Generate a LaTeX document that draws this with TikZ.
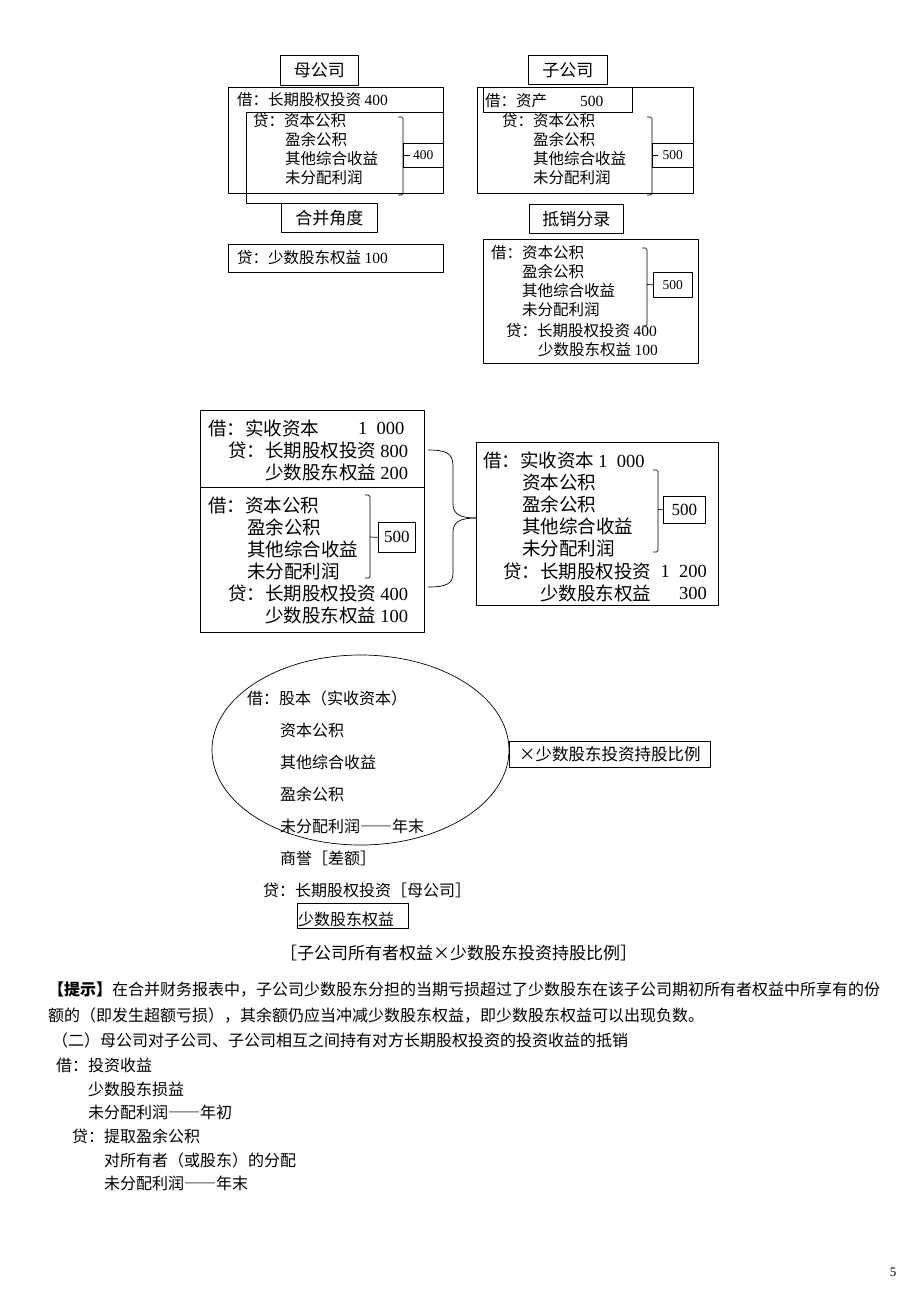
\documentclass[tikz,border=0pt]{standalone}
\usepackage{fontspec}
\setmainfont{Noto Sans CJK SC}
\newfontfamily\numfont{Liberation Serif}
\usetikzlibrary{shapes.geometric}
\XeTeXlinebreaklocale "zh"
\XeTeXlinebreakskip=0pt plus 2pt minus 0.3pt

\newcommand{\amt}[1]{{\numfont #1}}
\newcommand{\fs}[1]{\fontsize{#1}{#1}\selectfont}
\newcommand{\longdash}{{\addfontfeature{CharacterWidth=Full}——}}

\tikzstyle{boxframe}=[draw, line width=0.7pt, inner sep=0pt, anchor=north west]
\tikzstyle{titlebox}=[boxframe, font=\fs{17}]
\tikzstyle{numbox}=[boxframe, font=\numfont\fs{13.5}]
\tikzstyle{txt}=[anchor=west, inner sep=0pt]
\tikzstyle{bracket}=[line width=0.7pt, rounded corners=1.5pt]
\tikzstyle{tick}=[line width=0.7pt]

\begin{document}
\begin{tikzpicture}[x=1pt, y=-1pt, line join=round]
\fill[white] (0,0) rectangle (920,1302);
\useasboundingbox (0,0) rectangle (920,1302);

% parent company
\begin{scope}[font=\fs{15.5}]
  \node[titlebox, minimum width=78, minimum height=30] (mu) at (280,55) {母公司};
  \node[boxframe, minimum width=215, minimum height=106] (mubox) at (228,87) {};
  \node[txt] (mu0) at (237,100) {借：长期股权投资 \amt{400}};
  \node[txt] (mu1) at (253,121) {贷：资本公积};
  \foreach \t [count=\i from 2] in {盈余公积, 其他综合收益, 未分配利润}
    \node[txt] (mu\i) at (285,{121+19*(\i-1)}) {\t};
  \node[titlebox, minimum width=96, minimum height=29] (hebing) at (281,203) {合并角度};
  \draw[tick] (443,112) -- (246,112) -- (246,203) -- (hebing.north west);
  \draw[bracket] (398,117) -- (403,117) -- (403,195) -- (398,195);
  \node[numbox, minimum width=40, minimum height=24] (mu400) at (403,143) {400};
  \coordinate (mubk) at (403,155);
  \draw[tick] (mubk) -- ++(7,0);
  \node[boxframe, minimum width=215, minimum height=28] (shaoshu) at (228,244) {};
  \node[txt] (ss0) at (237,258) {贷：少数股东权益 \amt{100}};

  % subsidiary
  \node[titlebox, minimum width=79, minimum height=29] (zi) at (528,55) {子公司};
  \node[boxframe, minimum width=216, minimum height=106] (zibox) at (477,87) {};
  \node[boxframe, minimum width=149, minimum height=25] (zicap) at (483,87) {};
  \node[txt] (zi0) at (485,101) {借：资产};
  \node[txt] (zi0v) at (580,101) {\amt{500}};
  \node[txt] (zi1) at (502,121) {贷：资本公积};
  \foreach \t [count=\i from 2] in {盈余公积, 其他综合收益, 未分配利润}
    \node[txt] (zi\i) at (533,{121+19*(\i-1)}) {\t};
  \draw[bracket] (647,117) -- (652,117) -- (652,195) -- (647,195);
  \node[numbox, minimum width=41, minimum height=24] (zi500) at (652,143) {500};
  \coordinate (zibk) at (652,155);
  \draw[tick] (zibk) -- ++(6,0);

  % elimination entry
  \node[titlebox, minimum width=94, minimum height=29] (dixiao) at (529,204) {抵销分录};
  \node[boxframe, minimum width=215, minimum height=124] (dxbox) at (483,239) {};
  \node[txt] (dx1) at (491,253) {借：资本公积};
  \foreach \t [count=\i from 2] in {盈余公积, 其他综合收益, 未分配利润}
    \node[txt] (dx\i) at (522,{253+19*(\i-1)}) {\t};
  \node[txt] (dx5) at (506,331) {贷：长期股权投资 \amt{400}};
  \node[txt] (dx6) at (538,350) {少数股东权益 \amt{100}};
  \draw[bracket] (642,248) -- (647,248) -- (647,326) -- (642,326);
  \node[numbox, minimum width=39, minimum height=25] (dx500) at (653,272) {500};
  \draw[tick] (647,284.5) -- (dx500.west);
\end{scope}

% combined entries
\begin{scope}[font=\fs{18.5}]
  \node[boxframe, minimum width=224, minimum height=77] (abox) at (200,410) {};
  \node[boxframe, minimum width=224, minimum height=145] (bbox) at (200,487) {};
  \node[txt] (a1) at (208,428) {借：实收资本};
  \node[txt] (a1v) at (358,428) {\amt{1\hspace{0.5em}000}};
  \node[txt] (a2) at (228,450) {贷：长期股权投资 \amt{800}};
  \node[txt] (a3) at (265,472) {少数股东权益 \amt{200}};
  \node[txt] (b1) at (208,505) {借：资本公积};
  \foreach \t [count=\i from 2] in {盈余公积, 其他综合收益, 未分配利润}
    \node[txt] (b\i) at (247,{505+22*(\i-1)}) {\t};
  \node[txt] (b5) at (228,593) {贷：长期股权投资 \amt{400}};
  \node[txt] (b6) at (265,615) {少数股东权益 \amt{100}};
  \draw[bracket] (365,495) -- (370,495) -- (370,578) -- (365,578);
  \node[numbox, font=\numfont\fs{17}, minimum width=37, minimum height=30] (b500) at (378,522) {500};
  \draw[tick] (370,537) -- (b500.west);

  \node[boxframe, minimum width=242, minimum height=163] (cbox) at (476,442) {};
  \coordinate (tip) at (476,518);
  \draw[tick] (428,450) .. controls (446,450) and (453,453) .. (453,466) -- (453,504)
    .. controls (453,514) and (460,518) .. (tip);
  \draw[tick] (tip) .. controls (460,518) and (453,522) .. (453,532) -- (453,573)
    .. controls (453,584) and (446,587) .. (428,587);
  \node[txt] (c1) at (483,460) {借：实收资本 \amt{1\hspace{0.5em}000}};
  \foreach \t [count=\i from 2] in {资本公积, 盈余公积, 其他综合收益, 未分配利润}
    \node[txt] (c\i) at (522,{460+22*(\i-1)}) {\t};
  \node[txt] (c6) at (503,571) {贷：长期股权投资};
  \node[txt, anchor=east] (c6v) at (707,571) {\amt{1\hspace{0.5em}200}};
  \node[txt] (c7) at (540,593) {少数股东权益};
  \node[txt, anchor=east] (c7v) at (707,593) {\amt{300}};
  \draw[bracket] (653,470) -- (658,470) -- (658,552) -- (653,552);
  \node[numbox, font=\numfont\fs{17}, minimum width=42, minimum height=27] (c500) at (663,496) {500};
  \draw[tick] (658,509.5) -- (c500.west);
\end{scope}

% general entry
\begin{scope}[font=\fs{16}]
  \node[draw, ellipse, line width=0.7pt, minimum width=297, minimum height=190] (oval) at (360.5,750) {};
  \node[txt] (e1) at (247,698) {借：股本（实收资本）};
  \foreach \t [count=\i from 2] in {资本公积, 其他综合收益, 盈余公积, 未分配利润\longdash 年末, 商誉［差额］}
    \node[txt] (e\i) at (280,{698+32*(\i-1)}) {\t};
  \node[txt] (e7) at (263,890) {贷：长期股权投资［母公司］};
  \node[boxframe, font=\fs{16.5}, minimum width=201, minimum height=26] (ratio) at (509,741) {×少数股东投资持股比例};
  \node[boxframe, minimum width=111, minimum height=25] (ssbox) at (297,903) {};
  \node[txt] (ssq) at (298,919) {少数股东权益};
  \node[font=\fs{17}, inner sep=0pt] (formula) at (458.5,953) {［子公司所有者权益×少数股东投资持股比例］};

  % notes
  \node[txt, text width=850] (p1) at (48,990) {\noindent\parfillskip=0pt \textbf{【提示】}在合并财务报表中，子公司少数股东分担的当期亏损超过了少数股东在该子公司期初所有者权益中所享有的份};
  \node[txt] (p2) at (48,1015) {额的（即发生超额亏损），其余额仍应当冲减少数股东权益，即少数股东权益可以出现负数。};
  \node[txt] (p3) at (52,1040) {（二）母公司对子公司、子公司相互之间持有对方长期股权投资的投资收益的抵销};
  \node[txt] (q1) at (56,1065) {借：投资收益};
  \node[txt] (q2) at (88,1089) {少数股东损益};
  \node[txt] (q3) at (88,1112) {未分配利润\longdash 年初};
  \node[txt] (q4) at (72,1136) {贷：提取盈余公积};
  \node[txt] (q5) at (104,1160) {对所有者（或股东）的分配};
  \node[txt] (q6) at (104,1183) {未分配利润\longdash 年末};
  \node[font=\numfont\fs{13}] (pagenum) at (893,1272) {5};
\end{scope}
\end{tikzpicture}
\end{document}
